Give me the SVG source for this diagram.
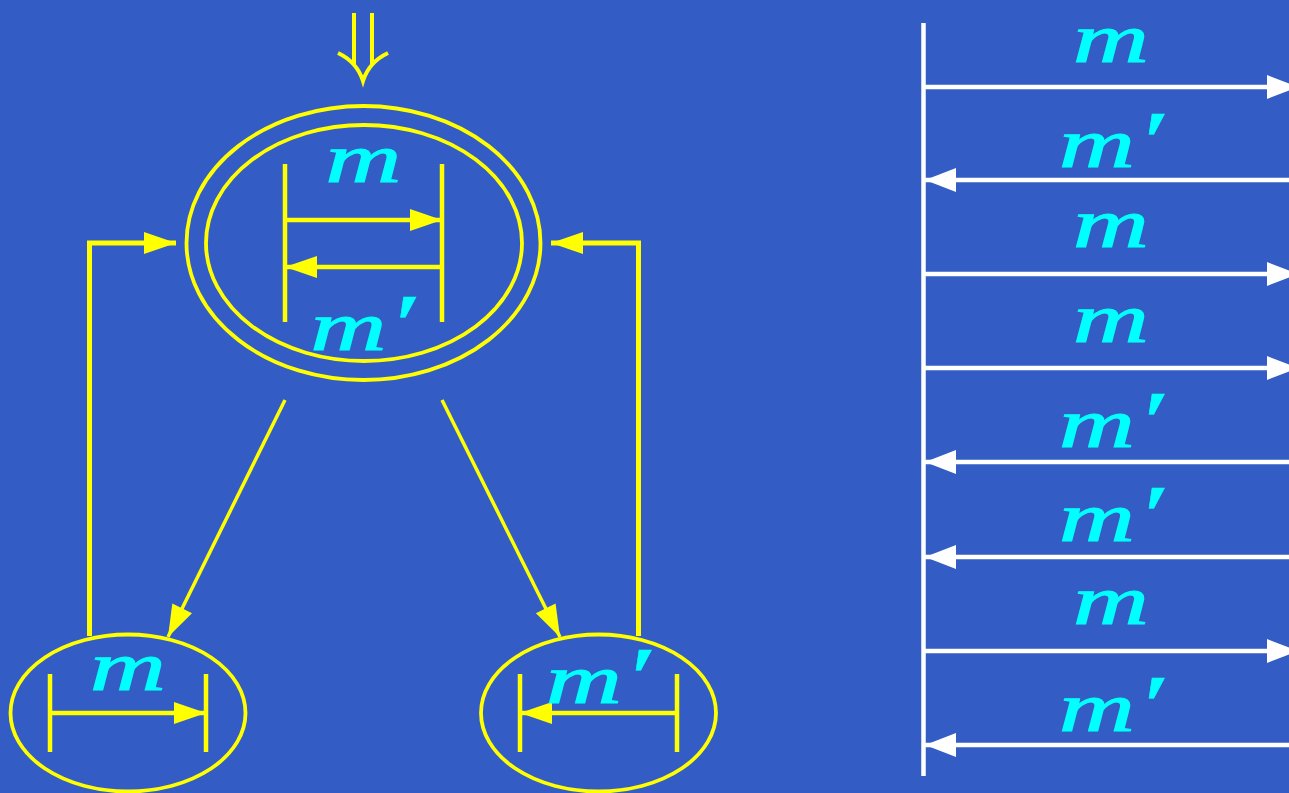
<svg xmlns="http://www.w3.org/2000/svg" width="1289" height="793" viewBox="0 0 1289 793">
<style>
.y{stroke:#ffff00;fill:none}
.w{stroke:#ffffff;fill:none;stroke-width:4.5}
.bar{stroke:#ffff00;stroke-width:4.5;fill:none}
.ell{stroke:#ffff00;stroke-width:3.8;fill:none}
.lbl{font-family:"Liberation Serif","DejaVu Serif",serif;font-style:italic;font-size:70px;fill:#00ffff;stroke:#00ffff;stroke-width:1.2;text-anchor:middle}
.pr{font-size:86px;stroke-width:0.4}
</style>
<defs>
<marker id="ay" markerUnits="userSpaceOnUse" markerWidth="34" markerHeight="24" viewBox="0 0 34 24" refX="33" refY="12" orient="auto">
<path d="M1,1 L33,12 L1,23 Z" fill="#ffff00"/>
</marker>
<marker id="aw" markerUnits="userSpaceOnUse" markerWidth="34" markerHeight="26" viewBox="0 0 34 26" refX="33" refY="13" orient="auto">
<path d="M2,1 L33,13 L2,25 Z" fill="#ffffff"/>
</marker>
</defs>
<rect x="0" y="0" width="1289" height="793" fill="#335dc4"/>

<g id="connectors">
<g class="y" stroke-width="4">
<line x1="354" y1="13" x2="354" y2="64"/>
<line x1="372" y1="13" x2="372" y2="64"/>
<path d="M338,53 Q357,62 363,81 Q369,62 388,53"/>
</g>
<polyline class="y" stroke-width="5" points="89.5,636 89.5,243 176,243" marker-end="url(#ay)"/>
<polyline class="y" stroke-width="5" points="638.5,636 638.5,243 551,243" marker-end="url(#ay)"/>
<line class="y" stroke-width="3.5" x1="285" y1="400" x2="168" y2="637" marker-end="url(#ay)"/>
<line class="y" stroke-width="3.5" x1="442" y1="400" x2="560" y2="637" marker-end="url(#ay)"/>
</g>

<g id="node-top">
<ellipse class="ell" cx="363.5" cy="243" rx="177" ry="137"/>
<ellipse class="ell" cx="364" cy="243" rx="158" ry="118"/>
<line class="bar" x1="285" y1="164" x2="285" y2="322"/>
<line class="bar" x1="442" y1="164" x2="442" y2="322"/>
<line class="bar" x1="285" y1="220" x2="442" y2="220" marker-end="url(#ay)"/>
<line class="bar" x1="442" y1="267" x2="285" y2="267" marker-end="url(#ay)"/>
<text class="lbl" transform="translate(363.5,182) scale(1.5,1)">m</text>
<text class="lbl" transform="translate(362.5,350) scale(1.5,1)">m<tspan class="pr" dy="4">′</tspan></text>
</g>

<g id="node-left">
<ellipse class="ell" cx="128" cy="713" rx="117.5" ry="78.5"/>
<line class="bar" x1="50" y1="674" x2="50" y2="752"/>
<line class="bar" x1="206" y1="674" x2="206" y2="752"/>
<line class="bar" x1="50" y1="713" x2="206" y2="713" marker-end="url(#ay)"/>
<text class="lbl" transform="translate(128,690) scale(1.5,1)">m</text>
</g>

<g id="node-right">
<ellipse class="ell" cx="598.5" cy="713" rx="117.5" ry="78.5"/>
<line class="bar" x1="520" y1="674" x2="520" y2="752"/>
<line class="bar" x1="677" y1="674" x2="677" y2="752"/>
<line class="bar" x1="677" y1="713" x2="520" y2="713" marker-end="url(#ay)"/>
<text class="lbl" transform="translate(598,703) scale(1.5,1)">m<tspan class="pr" dy="4">′</tspan></text>
</g>

<g id="sequence">
<line class="w" x1="923.5" y1="23" x2="923.5" y2="776"/>
<line class="w" x1="923" y1="87" x2="1298" y2="87" marker-end="url(#aw)"/>
<line class="w" x1="1295" y1="180" x2="925" y2="180" marker-end="url(#aw)"/>
<line class="w" x1="923" y1="274" x2="1298" y2="274" marker-end="url(#aw)"/>
<line class="w" x1="923" y1="368" x2="1298" y2="368" marker-end="url(#aw)"/>
<line class="w" x1="1295" y1="462" x2="925" y2="462" marker-end="url(#aw)"/>
<line class="w" x1="1295" y1="557" x2="925" y2="557" marker-end="url(#aw)"/>
<line class="w" x1="923" y1="651" x2="1298" y2="651" marker-end="url(#aw)"/>
<line class="w" x1="1295" y1="745" x2="925" y2="745" marker-end="url(#aw)"/>
<text class="lbl" transform="translate(1111,62) scale(1.5,1)">m</text>
<text class="lbl" transform="translate(1111,167) scale(1.5,1)">m<tspan class="pr" dy="4">′</tspan></text>
<text class="lbl" transform="translate(1111,247) scale(1.5,1)">m</text>
<text class="lbl" transform="translate(1111,342) scale(1.5,1)">m</text>
<text class="lbl" transform="translate(1111,447) scale(1.5,1)">m<tspan class="pr" dy="4">′</tspan></text>
<text class="lbl" transform="translate(1111,541) scale(1.5,1)">m<tspan class="pr" dy="4">′</tspan></text>
<text class="lbl" transform="translate(1111,624) scale(1.5,1)">m</text>
<text class="lbl" transform="translate(1111,731) scale(1.5,1)">m<tspan class="pr" dy="4">′</tspan></text>
</g>
</svg>
